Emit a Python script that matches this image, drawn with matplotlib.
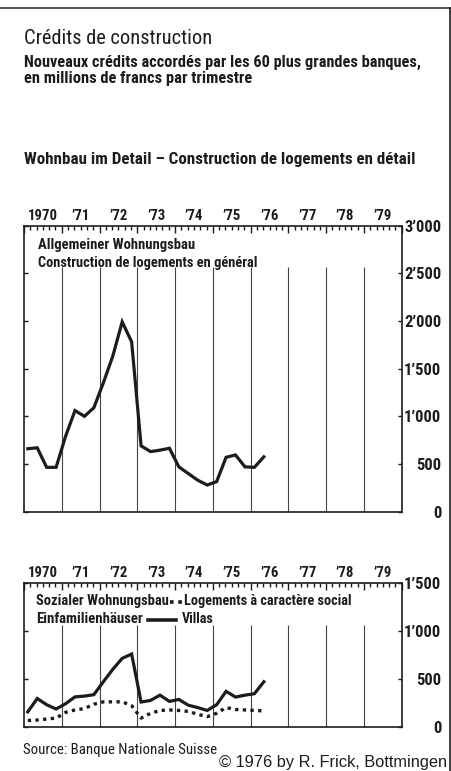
import numpy as np
import matplotlib
matplotlib.use("Agg")
import matplotlib.pyplot as plt
import matplotlib.font_manager as fm
from matplotlib.lines import Line2D
from matplotlib.transforms import ScaledTranslation

# schmale Schrift suchen, sonst Liberation / DejaVu
vorhanden = set(f.name for f in fm.fontManager.ttflist)
schrift = "DejaVu Sans"
for name in ["Roboto Condensed", "Liberation Sans Narrow", "Encode Sans Condensed",
             "Saira Condensed", "Roboto", "Liberation Sans"]:
    if name in vorhanden:
        schrift = name
        break
plt.rcParams['font.family'] = [schrift, 'DejaVu Sans']

# Daten (Mio. Fr. pro Quartal, 1970 Q1 - 1976 Q2)
allgemein = [660, 670, 465, 465, 790, 1060, 1000, 1090, 1350, 1630, 1990, 1780, 690,
             630, 645, 665, 470, 400, 330, 280, 315, 570, 595, 470, 465, 575]
villas = [155, 295, 230, 185, 240, 312, 320, 335, 470, 600, 715, 760, 258,
          275, 330, 265, 285, 225, 200, 170, 230, 370, 310, 330, 345, 470]
sozial = [65, 70, 80, 90, 150, 175, 190, 235, 260, 260, 260, 220, 90,
          140, 170, 175, 170, 160, 130, 105, 140, 200, 180, 175, 170, 165]

jahre = list(range(1970, 1981))
jahr_labels = ["1970", "’71", "’72", "’73", "’74", "’75", "’76", "’77", "’78", "’79"]
ticks_oben = [0, 500, 1000, 1500, 2000, 2500, 3000]
labels_oben = ["0", "500", "1’000", "1’500", "2’000", "2’500", "3’000"]
ticks_unten = [0, 500, 1000, 1500]
labels_unten = ["0", "500", "1’000", "1’500"]

W, H = 452, 771
ink = "#1c1c1c"

fig = plt.figure(figsize=(W / 100, H / 100), dpi=100)
fig.patch.set_facecolor("white")
r = fig.canvas.get_renderer()

def breite(s, weight):
    t = fig.text(0, 0, s, fontsize=10, fontweight=weight)
    b = t.get_window_extent(renderer=r).width
    t.remove()
    return b

# Schriftgroessen aus den Breiten im Original
fs_jahr = 10 * 30 / breite("1970", "bold")
fs_achse = 10 * 37 / breite("3’000", "bold")

def put(x, y, s, w, weight="bold", **kw):
    fs = 10 * w / breite(s, weight)
    return fig.text(x / W, 1 - y / H, s, fontsize=fs, fontweight=weight, color=ink, **kw)

def panel(ax, ymax, yt, yl, grid_top):
    ax.set_xlim(1970, 1980)
    ax.set_ylim(0, ymax)
    for s in ax.spines.values():
        s.set_linewidth(1.2)
        s.set_color(ink)
    # Jahreslinien
    ax.vlines(jahre[1:-1], 0, grid_top, color="#444444", lw=0.8)
    # Teilstriche oben
    ax.xaxis.tick_top()
    ax.set_xticks(jahre)
    ax.set_xticks(np.arange(1970, 1980.01, 1 / 6), minor=True)
    ax.tick_params(axis="x", which="major", direction="in", length=5, width=1, color=ink, labeltop=False)
    ax.tick_params(axis="x", which="minor", direction="in", length=3, width=1, color=ink)
    # y-Achse rechts
    ax.set_yticks(yt)
    ax.set_yticklabels(yl)
    ax.tick_params(axis="y", direction="in", length=3, width=1, color=ink,
                   left=True, right=True, labelleft=False, labelright=True, pad=28.5)
    for lbl in ax.get_yticklabels():
        lbl.set_horizontalalignment("right")
        lbl.set_fontweight("bold")
        lbl.set_fontsize(fs_achse)
        lbl.set_color(ink)
    off = ScaledTranslation(0, 3 / 100, fig.dpi_scale_trans)
    for j, lab in zip(jahre, jahr_labels):
        ax.text(j + 0.5, 1.0, lab, transform=ax.get_xaxis_transform() + off, ha="center", va="bottom",
                fontsize=fs_jahr, fontweight="bold", color=ink)

t = 1970.1 + 0.25 * np.arange(len(allgemein))

ax1 = fig.add_axes([24 / W, (H - 511.7) / H, 377.7 / W, 286.2 / H])
panel(ax1, 3000, ticks_oben, labels_oben, 2560)
ax1.plot(t, allgemein, color=ink, lw=2.3, solid_joinstyle="miter")

ax2 = fig.add_axes([24 / W, (H - 726.7) / H, 377.7 / W, 143.4 / H])
panel(ax2, 1500, ticks_unten, labels_unten, 1060)
ax2.plot(t, sozial, color=ink, lw=2.4, linestyle=(0, (1, 1.3)))
ax2.plot(t, villas, color=ink, lw=2.3, solid_joinstyle="miter")

# Rahmen
fig.add_artist(Line2D([0, 1], [1 - 8 / H] * 2, color="#333333", lw=1.2))
fig.add_artist(Line2D([450 / W] * 2, [0, 1 - 8 / H], color=ink, lw=1.2))

# Titel
put(24, 44, "Crédits de construction", 186, weight="normal", va="baseline")
put(24, 67, "Nouveaux crédits accordés par les 60 plus grandes banques,", 395, va="baseline")
put(24, 83.5, "en millions de francs par trimestre", 229, va="baseline")
put(24, 164, "Wohnbau im Detail – Construction de logements en détail", 392, weight="semibold", va="baseline")

put(38, 245, "Allgemeiner Wohnungsbau", 157, va="center")
put(38, 263, "Construction de logements en général", 219, va="center")

# Legende unten
put(35.7, 601, "Sozialer Wohnungsbau", 132, va="center")
fig.add_artist(Line2D([170 / W, 182.5 / W], [1 - 601.5 / H] * 2, color=ink, lw=2.6, linestyle=(0, (1, 1.3))))
put(184, 601, "Logements à caractère social", 167, va="center")
put(35.7, 619, "Einfamilienhäuser", 106, va="center")
fig.add_artist(Line2D([148 / W, 176 / W], [1 - 620 / H] * 2, color=ink, lw=2.6))
put(182, 619, "Villas", 32, va="center")

# Quelle
put(23, 750, "Source: Banque Nationale Suisse", 193, weight="normal", va="center")
c = fig.text(447 / W, 1 - 762 / H, "© 1976 by R. Frick, Bottmingen", fontsize=10.5, color=ink, va="center",
             ha="right", family=["Liberation Sans", "DejaVu Sans"])
c.set_fontsize(10.5 * 230 / c.get_window_extent(renderer=r).width)

fig.savefig("out.png", dpi=100)
